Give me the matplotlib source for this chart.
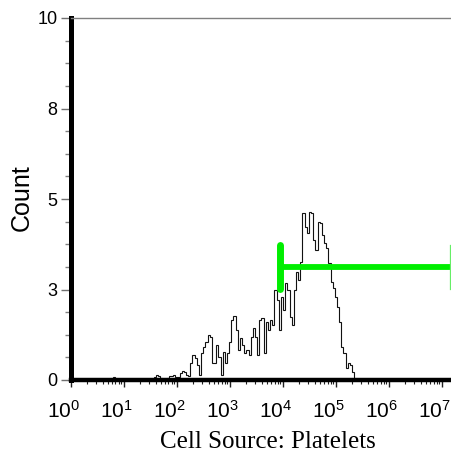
import numpy as np
import matplotlib
matplotlib.use("Agg")
import matplotlib.pyplot as plt
import matplotlib.ticker as mticker
import matplotlib.transforms as mtrans

plt.rcParams['font.family'] = ['Liberation Sans', 'DejaVu Sans']
plt.rcParams['mathtext.default'] = 'regular'

# histogram: log10 bin edges start / width, and counts per bin
log_start = 0.71
log_step = 0.0407
counts = [0, 0, 0.08, 0, 0, 0, 0, 0, 0, 0,
          0, 0, 0, 0, 0, 0, 0, 0, 0, 0,
          0, 0.09, 0.14, 0.12, 0.05, 0, 0, 0.05, 0.11, 0.11,
          0.14, 0.09, 0.07, 0.20, 0.26, 0.23, 0.14, 0.11, 0.46, 0.69,
          0.60, 0.41, 0.14, 0.74, 0.92, 1.06, 1.24, 1.20, 0.46, 0.46,
          0.97, 0.64, 0.14, 0.78, 0.46, 0.74, 1.06, 1.66, 1.77, 1.38,
          0.83, 1.15, 0.97, 0.74, 0.83, 0.69, 1.20, 1.43, 1.20, 0.69,
          1.66, 1.70, 0.74, 1.61, 1.38, 1.66, 1.52, 2.49, 2.21, 1.38,
          2.30, 1.93, 2.67, 2.49, 1.75, 1.52, 2.49, 2.99, 2.76, 3.27,
          4.60, 4.24, 4.05, 4.65, 4.60, 3.87, 3.59, 4.37, 4.33, 4.00,
          3.78, 3.64, 3.22, 2.72, 2.53, 2.30, 2.03, 1.61, 0.92, 0.74,
          0.32, 0.46, 0.41, 0.23, 0]

gate_low = 10 ** 3.95
gate_high = 10 ** 7.157
gate_y = 3.12
gate_bottom = 2.51
gate_top = 3.73

x_decades = [0, 1, 2, 3, 4, 5, 6, 7]
y_ticks = [0, 2.5, 5, 7.5, 10]
y_labels = ['0', '3', '5', '8', '10']

edges = 10 ** (log_start + log_step * np.arange(len(counts) + 1))

fig = plt.figure(figsize=(4.51, 4.53), dpi=100)
ax = fig.add_axes([70.7 / 451, 73 / 453, 1 - 70.7 / 451, 362 / 453])

ax.stairs(counts, edges, color='#111111', linewidth=0.8)

green = '#00ee00'
ax.plot([gate_low, gate_high], [gate_y, gate_y], color=green, lw=4.2, solid_capstyle='butt')
ax.plot([gate_low, gate_low], [gate_bottom, gate_top], color=green, lw=5, solid_capstyle='round')
ax.plot([gate_high, gate_high], [gate_bottom, gate_top], color='#66ee66', lw=0.9, clip_on=False)

ax.set_xscale('log')
ax.set_xlim(1, 10 ** 7.175)
ax.set_ylim(0, 10)

ax.spines['right'].set_visible(False)
ax.spines['top'].set_color('#808080')
ax.spines['top'].set_linewidth(1)
ax.spines['left'].set_linewidth(3.6)
ax.spines['bottom'].set_linewidth(3.2)

ax.set_yticks(y_ticks)
ax.set_yticklabels(y_labels)
ax.yaxis.set_minor_locator(mticker.MultipleLocator(0.625))
ax.tick_params(axis='y', which='major', length=7.5, width=1, color='#707070',
               labelsize=13, pad=2)
ax.tick_params(axis='y', which='minor', length=4.5, width=1, color='#808080')

ax.set_xticks([10.0 ** d for d in x_decades])
ax.set_xticklabels([r'$10^{%d}$' % d for d in x_decades])
ax.xaxis.set_minor_locator(mticker.LogLocator(base=10, subs=np.arange(2, 10), numticks=20))
ax.xaxis.set_minor_formatter(mticker.NullFormatter())
ax.tick_params(axis='x', which='major', length=5, width=1, color='#202020',
               labelsize=15, pad=9)
ax.tick_params(axis='x', which='minor', length=3, width=0.8, color='#202020')
shift = mtrans.ScaledTranslation(-7 / 100, 0, fig.dpi_scale_trans)
for lab in ax.get_xticklabels():
    lab.set_transform(lab.get_transform() + shift)

fig.text(22 / 451, 1 - 198 / 453, 'Count', rotation=90, ha='center', va='center', fontsize=18)
fig.text(267.5 / 451, 5 / 453, 'Cell Source: Platelets', ha='center', va='baseline',
         fontsize=18, family='Liberation Serif')

fig.savefig('out.png', dpi=100)
